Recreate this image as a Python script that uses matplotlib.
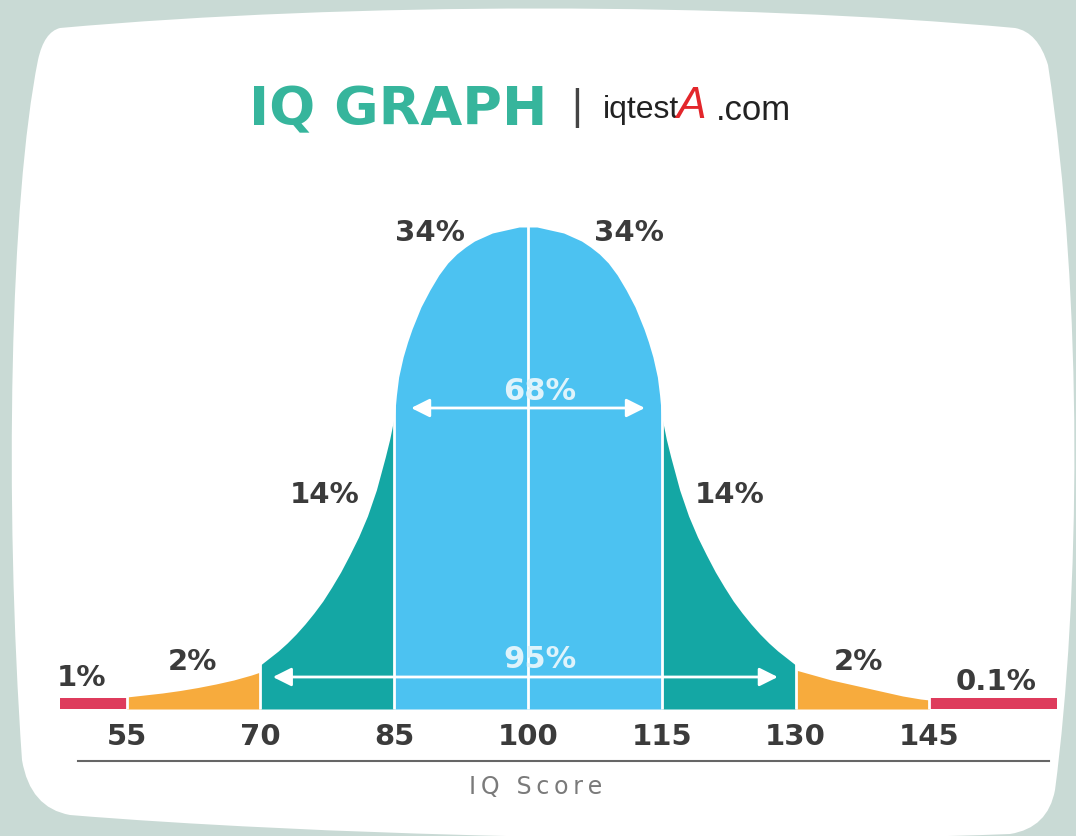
import matplotlib
matplotlib.use('Agg')
import matplotlib.pyplot as plt
from matplotlib.path import Path
from matplotlib.patches import PathPatch

# --- data (IQ score -> curve height, arbitrary units) ---
blue_iq = [85, 85.25, 85.5, 86, 86.5, 87, 88, 89, 90, 91, 92, 93, 94, 95, 96, 97, 98, 99, 100,
           101, 102, 103, 104, 105, 106, 107, 108, 109, 110, 111, 112, 113, 113.5, 114, 114.5,
           114.75, 115]
blue_h = [290, 314, 332, 352, 367, 380, 402, 419, 434, 446, 455, 462, 468, 472, 476, 478, 480, 482, 482,
          482, 480, 478, 476, 472, 468, 462, 455, 446, 434, 419, 402, 380, 367, 352, 332,
          314, 290]

teal_left_iq = [70, 71, 72, 73, 74, 75, 76, 77, 78, 79, 80, 81, 82, 83, 84, 84.5, 85]
teal_left_h = [44, 51, 58, 66, 75, 85, 96, 108, 122, 137, 154, 172, 193, 219, 252, 270, 292]
teal_right_iq = [115, 115.5, 116, 117, 118, 119, 120, 121, 122, 123, 124, 125, 126, 127, 128, 129, 130]
teal_right_h = [292, 270, 252, 219, 193, 172, 154, 137, 122, 108, 96, 85, 75, 66, 58, 51, 44]

orange_left_iq = [55, 57, 59, 61, 63, 65, 67, 69, 70]
orange_left_h = [12, 14, 16, 18.5, 21.5, 25, 29, 34, 37]
orange_right_iq = [130, 132, 134, 136, 138, 140, 142, 144, 145]
orange_right_h = [39, 34, 29, 25, 21, 17, 13, 10, 9]

red_left_iq = [47.5, 55]
red_right_iq = [145, 159.3]
red_h = 11

ticks = [55, 70, 85, 100, 115, 130, 145]
pct_labels = ['1%', '2%', '14%', '34%', '34%', '14%', '2%', '0.1%']
pct_x = [50.0, 62.4, 77.2, 89.0, 111.3, 122.6, 137.0, 152.5]
pct_y = [31, 47, 214, 476, 476, 214, 47, 27]

BLUE = '#4cc2f1'
TEAL = '#14a7a4'
ORANGE = '#f7ab3d'
RED = '#de3b5c'
DARK = '#3b3b3b'

W, H = 1076, 836

fig = plt.figure(figsize=(10.76, 8.36), dpi=100)
fig.patch.set_facecolor('#c9dad5')

ax = fig.add_axes([0, 0, 1, 1])
ax.set_facecolor('none')
ax.set_xlim(40.81, 161.43)
ax.set_ylim(-127, 709)
ax.axis('off')


# white card with slightly bulging sides (pixel coords, y down)
def p(x, y):
    return (x / W, 1 - y / H)


verts = [p(60, 28),
         p(350, 2), p(730, 2), p(1015, 28),
         p(1038, 32), p(1048, 65),
         p(1084, 300), p(1080, 600), p(1055, 790),
         p(1048, 828), p(1010, 834),
         p(700, 846), p(300, 834), p(70, 815),
         p(30, 808), p(22, 760),
         p(4, 500), p(10, 200), p(38, 60),
         p(44, 32), p(60, 28)]
codes = [Path.MOVETO,
         Path.CURVE4, Path.CURVE4, Path.CURVE4,
         Path.CURVE3, Path.CURVE3,
         Path.CURVE4, Path.CURVE4, Path.CURVE4,
         Path.CURVE3, Path.CURVE3,
         Path.CURVE4, Path.CURVE4, Path.CURVE4,
         Path.CURVE3, Path.CURVE3,
         Path.CURVE4, Path.CURVE4, Path.CURVE4,
         Path.CURVE3, Path.CURVE3]
ax.add_patch(PathPatch(Path(verts, codes), transform=ax.transAxes,
                       facecolor='white', edgecolor='none', zorder=-5))

ax.fill_between(blue_iq, 0, blue_h, color=BLUE, lw=0)
ax.fill_between(teal_left_iq, 0, teal_left_h, color=TEAL, lw=0)
ax.fill_between(teal_right_iq, 0, teal_right_h, color=TEAL, lw=0)
ax.fill_between(orange_left_iq, 0, orange_left_h, color=ORANGE, lw=0)
ax.fill_between(orange_right_iq, 0, orange_right_h, color=ORANGE, lw=0)
ax.fill_between(red_left_iq, 0, red_h, color=RED, lw=0)
ax.fill_between(red_right_iq, 0, red_h, color=RED, lw=0)

# white dividers
ax.vlines(ticks, 0, 490, color='white', lw=2)

# arrows
arrow = dict(arrowstyle='<|-|>', color='white', lw=2, mutation_scale=28,
             shrinkA=0, shrinkB=0)
ax.annotate('', xy=(86.9, 301), xytext=(113.1, 301), arrowprops=arrow)
ax.annotate('', xy=(71.4, 32), xytext=(128.0, 32), arrowprops=arrow)
ax.text(101.3, 318, '68%', color='#dff3fb', fontsize=22, fontweight='bold',
        ha='center', va='center')
ax.text(101.3, 50, '95%', color='#dff3fb', fontsize=22, fontweight='bold',
        ha='center', va='center')

for lab, x, y in zip(pct_labels, pct_x, pct_y):
    ax.text(x, y, lab, color=DARK, fontsize=21, fontweight='bold',
            ha='center', va='center')

for t in ticks:
    ax.text(t, -28, str(t), color=DARK, fontsize=21, fontweight='bold',
            ha='center', va='center')

ax.plot([49.5, 158.4], [-52, -52], color='#666666', lw=1.5)
ax.text(100.9, -78, 'I\u2009Q\u2009 \u2009S\u2009c\u2009o\u2009r\u2009e', color='#7a7a7a',
        fontsize=17, ha='center', va='center')

# title
ax.text(68.7, 599, 'IQ GRAPH', color='#36b59c', fontsize=39, fontweight='bold',
        ha='left', va='center')
ax.text(105.5, 601, '|', color='#444444', fontsize=30, ha='center', va='center',
        family='Liberation Sans')
ax.text(108.4, 599, 'iqtest', color='#222222', fontsize=23, ha='left',
        va='center', family='Liberation Sans')
ax.text(116.6, 602, 'A', color='#e3262b', fontsize=32, style='italic',
        ha='left', va='center', family='Liberation Sans')
ax.text(121.1, 599, '.com', color='#222222', fontsize=25, ha='left',
        va='center', family='Liberation Sans')

fig.savefig('out.png', dpi=100, facecolor=fig.get_facecolor())
